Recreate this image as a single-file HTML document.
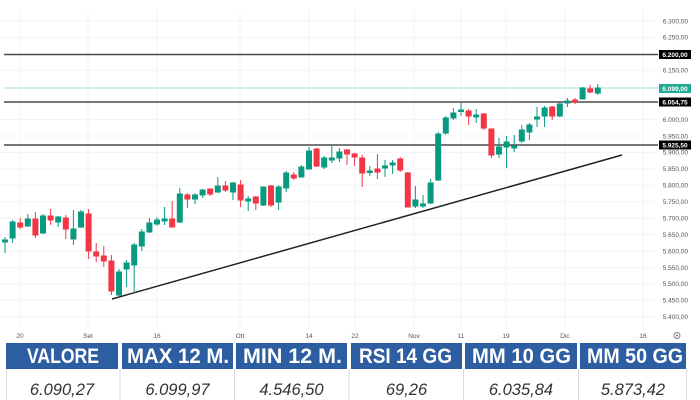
<!DOCTYPE html>
<html><head><meta charset="utf-8"><style>
html,body{margin:0;padding:0;background:#fff;}
svg{display:block;}
.g{fill:#089981;stroke:#089981;}
.r{fill:#f23645;stroke:#f23645;}
.tk{font-family:"Liberation Sans",sans-serif;font-size:6.5px;fill:#555;}
.hd{font-family:"Liberation Sans",sans-serif;font-weight:bold;font-size:21px;fill:#fff;}
.vl{font-family:"Liberation Sans",sans-serif;font-style:italic;font-size:16.5px;fill:#333;}
</style></head><body>
<svg width="700" height="400" viewBox="0 0 700 400" xmlns="http://www.w3.org/2000/svg">
<rect width="700" height="400" fill="#fff"/>
<!-- grid -->
<g stroke="#f1f3f6" stroke-width="1">
<line x1="0" x2="655" y1="21" y2="21"/><line x1="0" x2="655" y1="37.4" y2="37.4"/><line x1="0" x2="655" y1="70.3" y2="70.3"/>
<line x1="0" x2="655" y1="119.6" y2="119.6"/><line x1="0" x2="655" y1="136" y2="136"/><line x1="0" x2="655" y1="152.4" y2="152.4"/>
<line x1="0" x2="655" y1="168.9" y2="168.9"/><line x1="0" x2="655" y1="185.3" y2="185.3"/><line x1="0" x2="655" y1="201.7" y2="201.7"/>
<line x1="0" x2="655" y1="218.2" y2="218.2"/><line x1="0" x2="655" y1="234.6" y2="234.6"/><line x1="0" x2="655" y1="251" y2="251"/>
<line x1="0" x2="655" y1="267.5" y2="267.5"/><line x1="0" x2="655" y1="283.9" y2="283.9"/><line x1="0" x2="655" y1="300.3" y2="300.3"/>
<line x1="0" x2="655" y1="316.7" y2="316.7"/>
<line x1="20" x2="20" y1="10" y2="328"/><line x1="88" x2="88" y1="10" y2="328"/><line x1="157" x2="157" y1="10" y2="328"/>
<line x1="240" x2="240" y1="10" y2="328"/><line x1="309" x2="309" y1="10" y2="328"/><line x1="355" x2="355" y1="10" y2="328"/>
<line x1="414" x2="414" y1="10" y2="328"/><line x1="461" x2="461" y1="10" y2="328"/><line x1="506" x2="506" y1="10" y2="328"/>
<line x1="565" x2="565" y1="10" y2="328"/><line x1="643" x2="643" y1="10" y2="328"/>
</g>
<!-- horizontal levels -->
<line x1="4" x2="658" y1="88" y2="88" stroke="#a6dbd0" stroke-width="1"/>
<g stroke="#4a4a4a" stroke-width="1.5">
<line x1="4" x2="658" y1="54.5" y2="54.5"/>
<line x1="4" x2="658" y1="102" y2="102"/>
<line x1="4" x2="658" y1="145" y2="145"/>
</g>
<!-- trend line -->
<line x1="112" y1="299" x2="622" y2="155" stroke="#222" stroke-width="1.5"/>
<!-- candles -->
<g stroke-width="1">
<line class="g" x1="5" x2="5" y1="237" y2="253"/><rect class="g" x="2.5" y="240" width="5" height="2"/>
<line class="g" x1="12.6" x2="12.6" y1="220" y2="243"/><rect class="g" x="10.1" y="222" width="5" height="16"/>
<line class="r" x1="20.2" x2="20.2" y1="218" y2="229"/><rect class="r" x="17.7" y="223" width="5" height="4"/>
<line class="g" x1="27.8" x2="27.8" y1="214" y2="227"/><rect class="g" x="25.3" y="219" width="5" height="7"/>
<line class="r" x1="35.4" x2="35.4" y1="212" y2="238"/><rect class="r" x="32.9" y="219" width="5" height="16"/>
<line class="g" x1="43" x2="43" y1="214" y2="234"/><rect class="g" x="40.5" y="216" width="5" height="17"/>
<line class="r" x1="50.6" x2="50.6" y1="209" y2="225"/><rect class="r" x="48.1" y="216" width="5" height="4"/>
<line class="g" x1="58.2" x2="58.2" y1="216" y2="227"/><rect class="g" x="55.7" y="217" width="5" height="5"/>
<line class="r" x1="65.8" x2="65.8" y1="215" y2="239"/><rect class="r" x="63.3" y="218" width="5" height="11"/>
<line class="g" x1="73.4" x2="73.4" y1="210" y2="245"/><rect class="g" x="70.9" y="229" width="5" height="10"/>
<line class="g" x1="81" x2="81" y1="210" y2="228"/><rect class="g" x="78.5" y="212" width="5" height="15"/>
<line class="r" x1="88.6" x2="88.6" y1="209" y2="259"/><rect class="r" x="86.1" y="214" width="5" height="37"/>
<line class="r" x1="96.2" x2="96.2" y1="243" y2="262"/><rect class="r" x="93.7" y="252" width="5" height="4"/>
<line class="r" x1="103.8" x2="103.8" y1="246" y2="267"/><rect class="r" x="101.3" y="256" width="5" height="5"/>
<line class="r" x1="111.4" x2="111.4" y1="255" y2="295"/><rect class="r" x="108.9" y="261" width="5" height="30"/>
<line class="g" x1="119" x2="119" y1="269" y2="296"/><rect class="g" x="116.5" y="272" width="5" height="23"/>
<line class="g" x1="126.6" x2="126.6" y1="260" y2="287"/><rect class="g" x="124.1" y="263" width="5" height="6"/>
<line class="g" x1="134.2" x2="134.2" y1="243" y2="293"/><rect class="g" x="131.7" y="245" width="5" height="20"/>
<line class="g" x1="141.8" x2="141.8" y1="229" y2="251"/><rect class="g" x="139.3" y="232" width="5" height="14"/>
<line class="g" x1="149.4" x2="149.4" y1="218" y2="233"/><rect class="g" x="146.9" y="223" width="5" height="9"/>
<line class="g" x1="157" x2="157" y1="217" y2="226"/><rect class="g" x="154.5" y="220" width="5" height="4"/>
<line class="g" x1="164.6" x2="164.6" y1="207" y2="225"/><rect class="g" x="162.1" y="219" width="5" height="2"/>
<line class="r" x1="172.2" x2="172.2" y1="201" y2="227"/><rect class="r" x="169.7" y="219" width="5" height="8"/>
<line class="g" x1="179.8" x2="179.8" y1="188" y2="223"/><rect class="g" x="177.3" y="194" width="5" height="28"/>
<line class="r" x1="187.4" x2="187.4" y1="193" y2="208"/><rect class="r" x="184.9" y="195" width="5" height="4"/>
<line class="g" x1="195" x2="195" y1="193" y2="204"/><rect class="g" x="192.5" y="195" width="5" height="4"/>
<line class="g" x1="202.6" x2="202.6" y1="189" y2="198"/><rect class="g" x="200.1" y="190" width="5" height="5"/>
<line class="r" x1="210.2" x2="210.2" y1="189" y2="196"/><rect class="r" x="207.7" y="189" width="5" height="5"/>
<line class="g" x1="217.8" x2="217.8" y1="177" y2="193"/><rect class="g" x="215.3" y="186" width="5" height="6"/>
<line class="r" x1="225.4" x2="225.4" y1="181" y2="192"/><rect class="r" x="222.9" y="186" width="5" height="4"/>
<line class="g" x1="233" x2="233" y1="182" y2="200"/><rect class="g" x="230.5" y="183" width="5" height="9"/>
<line class="r" x1="240.6" x2="240.6" y1="180" y2="207"/><rect class="r" x="238.1" y="185" width="5" height="15"/>
<line class="g" x1="248.2" x2="248.2" y1="196" y2="211"/><rect class="g" x="245.7" y="199" width="5" height="2"/>
<line class="r" x1="255.8" x2="255.8" y1="196" y2="210"/><rect class="r" x="253.3" y="197" width="5" height="6"/>
<line class="g" x1="263.4" x2="263.4" y1="187" y2="206"/><rect class="g" x="260.9" y="187" width="5" height="18"/>
<line class="r" x1="271" x2="271" y1="185" y2="207"/><rect class="r" x="268.5" y="186" width="5" height="19"/>
<line class="g" x1="278.6" x2="278.6" y1="185" y2="210"/><rect class="g" x="276.1" y="187" width="5" height="15"/>
<line class="g" x1="286.2" x2="286.2" y1="171" y2="192"/><rect class="g" x="283.7" y="173" width="5" height="15"/>
<line class="r" x1="293.8" x2="293.8" y1="172" y2="180"/><rect class="r" x="291.3" y="175" width="5" height="3"/>
<line class="g" x1="301.4" x2="301.4" y1="165" y2="177"/><rect class="g" x="298.9" y="167" width="5" height="10"/>
<line class="g" x1="309" x2="309" y1="147" y2="169"/><rect class="g" x="306.5" y="151" width="5" height="18"/>
<line class="r" x1="316.6" x2="316.6" y1="148" y2="167"/><rect class="r" x="314.1" y="149" width="5" height="17"/>
<line class="g" x1="324.2" x2="324.2" y1="156" y2="169"/><rect class="g" x="321.7" y="158" width="5" height="9"/>
<line class="g" x1="331.8" x2="331.8" y1="146" y2="163"/><rect class="g" x="329.3" y="158" width="5" height="2"/>
<line class="g" x1="339.4" x2="339.4" y1="148" y2="162"/><rect class="g" x="336.9" y="152" width="5" height="6"/>
<line class="r" x1="347" x2="347" y1="149" y2="165"/><rect class="r" x="344.5" y="150" width="5" height="4"/>
<line class="r" x1="354.6" x2="354.6" y1="153" y2="166"/><rect class="r" x="352.1" y="154" width="5" height="3"/>
<line class="r" x1="362.2" x2="362.2" y1="155" y2="187"/><rect class="r" x="359.7" y="158" width="5" height="15"/>
<line class="g" x1="369.8" x2="369.8" y1="166" y2="176"/><rect class="g" x="367.3" y="171" width="5" height="1.5"/>
<line class="r" x1="377.4" x2="377.4" y1="154" y2="179"/><rect class="r" x="374.9" y="169" width="5" height="3"/>
<line class="g" x1="385" x2="385" y1="160" y2="177"/><rect class="g" x="382.5" y="166" width="5" height="2"/>
<line class="g" x1="392.6" x2="392.6" y1="160" y2="174"/><rect class="g" x="390.1" y="163" width="5" height="2"/>
<line class="r" x1="400.2" x2="400.2" y1="157" y2="172"/><rect class="r" x="397.7" y="159" width="5" height="11"/>
<line class="r" x1="407.8" x2="407.8" y1="172" y2="207"/><rect class="r" x="405.3" y="173" width="5" height="34"/>
<line class="g" x1="415.4" x2="415.4" y1="186" y2="208"/><rect class="g" x="412.9" y="200" width="5" height="6"/>
<line class="g" x1="423" x2="423" y1="195" y2="208"/><rect class="g" x="420.5" y="204" width="5" height="2"/>
<line class="g" x1="430.6" x2="430.6" y1="179" y2="204"/><rect class="g" x="428.1" y="183" width="5" height="20"/>
<line class="g" x1="438.2" x2="438.2" y1="132" y2="181"/><rect class="g" x="435.7" y="134" width="5" height="46"/>
<line class="g" x1="445.8" x2="445.8" y1="116" y2="135"/><rect class="g" x="443.3" y="118" width="5" height="15"/>
<line class="g" x1="453.4" x2="453.4" y1="108" y2="120"/><rect class="g" x="450.9" y="113" width="5" height="5"/>
<line class="g" x1="461" x2="461" y1="103" y2="116"/><rect class="g" x="458.5" y="110" width="5" height="1.5"/>
<line class="r" x1="468.6" x2="468.6" y1="109" y2="125"/><rect class="r" x="466.1" y="111" width="5" height="5"/>
<line class="g" x1="476.2" x2="476.2" y1="109" y2="123"/><rect class="g" x="473.7" y="115" width="5" height="2"/>
<line class="r" x1="483.8" x2="483.8" y1="113" y2="130"/><rect class="r" x="481.3" y="114" width="5" height="14"/>
<line class="r" x1="491.4" x2="491.4" y1="129" y2="158"/><rect class="r" x="488.9" y="129" width="5" height="26"/>
<line class="g" x1="499" x2="499" y1="138" y2="158"/><rect class="g" x="496.5" y="147" width="5" height="7"/>
<line class="g" x1="506.6" x2="506.6" y1="136" y2="168"/><rect class="g" x="504.1" y="142" width="5" height="5"/>
<line class="g" x1="514.2" x2="514.2" y1="135" y2="152"/><rect class="g" x="511.7" y="146" width="5" height="2"/>
<line class="g" x1="521.8" x2="521.8" y1="125" y2="143"/><rect class="g" x="519.3" y="130" width="5" height="11"/>
<line class="g" x1="529.4" x2="529.4" y1="123" y2="140"/><rect class="g" x="526.9" y="125" width="5" height="7"/>
<line class="g" x1="537" x2="537" y1="107" y2="127"/><rect class="g" x="534.5" y="117" width="5" height="2"/>
<line class="g" x1="544.6" x2="544.6" y1="106" y2="127"/><rect class="g" x="542.1" y="108" width="5" height="8"/>
<line class="r" x1="552.2" x2="552.2" y1="106" y2="120"/><rect class="r" x="549.7" y="107" width="5" height="9"/>
<line class="g" x1="559.8" x2="559.8" y1="101" y2="117"/><rect class="g" x="557.3" y="104" width="5" height="12"/>
<line class="g" x1="567.4" x2="567.4" y1="98" y2="107"/><rect class="g" x="564.9" y="101" width="5" height="2"/>
<line class="r" x1="575" x2="575" y1="98" y2="104"/><rect class="r" x="572.5" y="100" width="5" height="2"/>
<line class="g" x1="582.6" x2="582.6" y1="87" y2="99"/><rect class="g" x="580.1" y="88" width="5" height="11"/>
<line class="r" x1="590.2" x2="590.2" y1="85" y2="93"/><rect class="r" x="587.7" y="89" width="5" height="3"/>
<line class="g" x1="597.8" x2="597.8" y1="84" y2="95"/><rect class="g" x="595.3" y="88" width="5" height="5"/>
</g>
<!-- y axis ticks -->
<g class="tk" text-anchor="end">
<text x="688" y="23.3">6.300,00</text>
<text x="688" y="39.7">6.250,00</text>
<text x="688" y="72.6">6.150,00</text>
<text x="688" y="121.9">6.000,00</text>
<text x="688" y="138.3">5.950,00</text>
<text x="688" y="154.7">5.900,00</text>
<text x="688" y="171.2">5.850,00</text>
<text x="688" y="187.6">5.800,00</text>
<text x="688" y="204">5.750,00</text>
<text x="688" y="220.5">5.700,00</text>
<text x="688" y="236.9">5.650,00</text>
<text x="688" y="253.3">5.600,00</text>
<text x="688" y="269.8">5.550,00</text>
<text x="688" y="286.2">5.500,00</text>
<text x="688" y="302.6">5.450,00</text>
<text x="688" y="319">5.400,00</text>
</g>
<!-- level labels -->
<rect x="659" y="50" width="32" height="9" fill="#000"/>
<rect x="659" y="84" width="32" height="9" fill="#22ab94"/>
<rect x="659" y="97.5" width="32" height="9" fill="#000"/>
<rect x="659" y="140.5" width="32" height="9" fill="#000"/>
<g class="tk" text-anchor="middle" style="fill:#fff;font-weight:bold">
<text x="675" y="57">6.200,00</text>
<text x="675" y="91">6.099,00</text>
<text x="675" y="104.5">6.054,75</text>
<text x="675" y="147.5">5.925,50</text>
</g>
<!-- x axis labels -->
<g class="tk" text-anchor="middle">
<text x="20" y="338">20</text>
<text x="88" y="338">Set</text>
<text x="157" y="338">16</text>
<text x="240" y="338">Ott</text>
<text x="309" y="338">14</text>
<text x="355" y="338">22</text>
<text x="414" y="338">Nov</text>
<text x="461" y="338">11</text>
<text x="506" y="338">19</text>
<text x="565" y="338">Dic</text>
<text x="643" y="338">16</text>
</g>
<circle cx="677" cy="335.5" r="3" fill="none" stroke="#777" stroke-width="0.9"/>
<circle cx="677" cy="335.5" r="1" fill="#777"/>
<!-- table header -->
<g fill="#2e5ea2">
<rect x="6" y="343" width="112" height="26"/>
<rect x="122" y="343" width="111" height="26"/>
<rect x="236" y="343" width="111" height="26"/>
<rect x="351" y="343" width="111" height="26"/>
<rect x="465" y="343" width="112" height="26"/>
<rect x="580" y="343" width="106" height="26"/>
</g>
<g class="hd">
<text x="27" y="363" textLength="72" lengthAdjust="spacingAndGlyphs">VALORE</text>
<text x="127" y="363" textLength="102" lengthAdjust="spacingAndGlyphs">MAX 12 M.</text>
<text x="243" y="363" textLength="99" lengthAdjust="spacingAndGlyphs">MIN 12 M.</text>
<text x="359" y="363" textLength="93" lengthAdjust="spacingAndGlyphs">RSI 14 GG</text>
<text x="472" y="363" textLength="99" lengthAdjust="spacingAndGlyphs">MM 10 GG</text>
<text x="587" y="363" textLength="96" lengthAdjust="spacingAndGlyphs">MM 50 GG</text>
</g>
<!-- value row -->
<g fill="none" stroke="#dcdcdc" stroke-width="1">
<line x1="6.5" x2="6.5" y1="369" y2="400"/>
<line x1="120" x2="120" y1="369" y2="400"/>
<line x1="234.5" x2="234.5" y1="369" y2="400"/>
<line x1="349" x2="349" y1="369" y2="400"/>
<line x1="463.5" x2="463.5" y1="369" y2="400"/>
<line x1="578.5" x2="578.5" y1="369" y2="400"/>
<line x1="686.5" x2="686.5" y1="369" y2="400"/>
</g>
<g class="vl" text-anchor="middle">
<text x="62" y="395">6.090,27</text>
<text x="177.5" y="395">6.099,97</text>
<text x="291.5" y="395">4.546,50</text>
<text x="406.5" y="395">69,26</text>
<text x="521" y="395">6.035,84</text>
<text x="633" y="395">5.873,42</text>
</g>
</svg>
</body></html>
